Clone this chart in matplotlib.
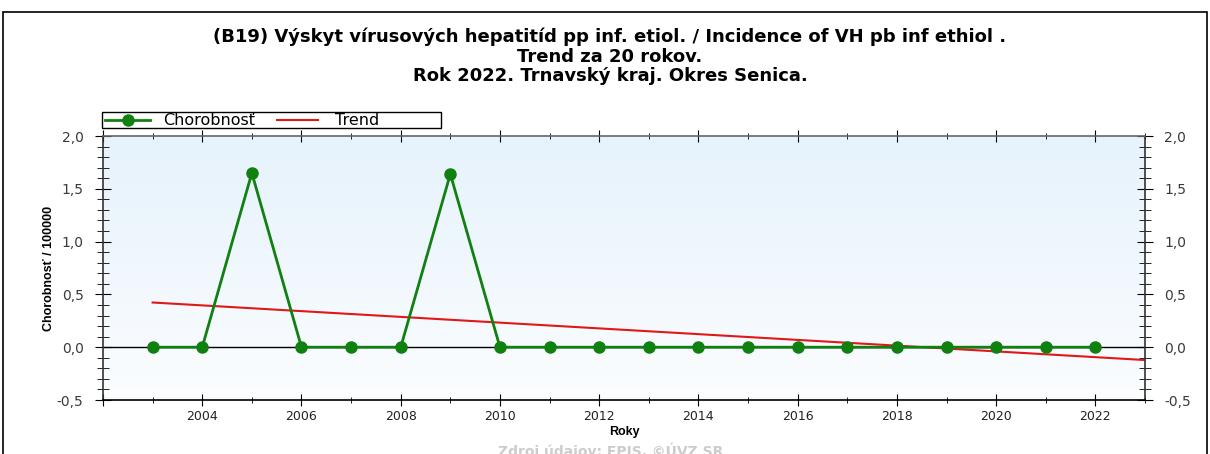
import numpy as np
import matplotlib
matplotlib.use("Agg")
import matplotlib.pyplot as plt
from matplotlib.ticker import MultipleLocator, FuncFormatter
from matplotlib.patches import Rectangle
from matplotlib.lines import Line2D
from matplotlib.colors import LinearSegmentedColormap

years = list(range(2003, 2023))
values = [0, 0, 1.65, 0, 0, 0, 1.64, 0, 0, 0, 0, 0, 0, 0, 0, 0, 0, 0, 0, 0]
title_lines = ["(B19) Výskyt vírusových hepatitíd pp inf. etiol. / Incidence of VH pb inf ethiol .",
               "Trend za 20 rokov.",
               "Rok 2022. Trnavský kraj. Okres Senica."]
series_label = "Chorobnosť"
trend_label = "Trend"

plt.rcParams['font.family'] = ['DejaVu Sans']

W, H = 1210, 454
fig = plt.figure(figsize=(W / 100, H / 100), dpi=100)
ax = fig.add_axes([103 / W, 1 - 400 / H, (1145 - 103) / W, (400 - 136) / H])

GREEN = '#108010'
RED = '#e01818'

# background gradient
grad = np.linspace(0, 1, 256).reshape(-1, 1)
cmap = LinearSegmentedColormap.from_list("bg", ["#fbfdff", "#e6f2fc"])
ax.imshow(grad, aspect='auto', cmap=cmap, extent=[2002, 2023, -0.5, 2.0], origin='lower', zorder=0)

ax.axhline(0, color='black', lw=1, zorder=1)

# trend from linear regression of the data
coef = np.polyfit(years, values, 1)
tx = np.array([2003, 2023])
ax.plot(tx, np.polyval(coef, tx), color=RED, lw=1.5, zorder=2)
ax.plot(years, values, color=GREEN, lw=2, marker='o', markersize=8, zorder=3)

ax.set_xlim(2002, 2023)
ax.set_ylim(-0.5, 2.0)
ax.xaxis.set_major_locator(MultipleLocator(2))
ax.xaxis.set_minor_locator(MultipleLocator(1))
ax.yaxis.set_major_locator(MultipleLocator(0.5))
ax.yaxis.set_minor_locator(MultipleLocator(0.1))
ax.yaxis.set_major_formatter(FuncFormatter(lambda v, p: f"{v:.1f}".replace('.', ',')))
ax.xaxis.set_major_formatter(FuncFormatter(lambda v, p: f"{int(v)}" if 2004 <= v <= 2022 else ""))
ax.tick_params(axis='y', which='both', direction='inout', left=True, right=True,
               labelleft=True, labelright=True, labelsize=10, labelcolor='#3a3a3a', pad=8)
ax.tick_params(axis='y', which='major', length=12)
ax.tick_params(axis='y', which='minor', length=8)
ax.tick_params(axis='x', which='both', direction='inout', top=True, bottom=True,
               labelsize=9, labelcolor='#222222', pad=3)
ax.tick_params(axis='x', which='major', length=8)
ax.tick_params(axis='x', which='minor', length=5)
for s in ['left', 'right', 'top', 'bottom']:
    ax.spines[s].set_linewidth(1.2)
ax.spines['left'].set_color('#333333')
ax.spines['right'].set_color('#333333')
ax.spines['top'].set_color('#666666')

ax.set_xlabel('Roky', fontsize=9, fontweight='bold', labelpad=2, family='Liberation Sans')
ax.set_ylabel('Chorobnosť / 100000', fontsize=9, fontweight='bold', labelpad=1,
              family='Liberation Sans')

for line, ypx in zip(title_lines, [37, 57, 76]):
    fig.text(610 / W, 1 - ypx / H, line, ha='center', va='center', fontsize=13,
             fontweight='bold')

def fx(px):
    return px / W

def fy(py):
    return 1 - py / H

# legend box drawn in figure pixels
fig.patches.append(Rectangle((fx(102), fy(128)), (441 - 102) / W, 16 / H,
                             transform=fig.transFigure, fill=True, facecolor='white',
                             edgecolor='black', lw=1))
fig.lines.append(Line2D([fx(105), fx(150)], [fy(120), fy(120)], transform=fig.transFigure,
                        color=GREEN, lw=2))
fig.lines.append(Line2D([fx(127.5)], [fy(120)], transform=fig.transFigure, color=GREEN,
                        marker='o', markersize=8))
fig.text(fx(163), fy(120.5), series_label, ha='left', va='center', fontsize=11.5)
fig.lines.append(Line2D([fx(277), fx(318)], [fy(120), fy(120)], transform=fig.transFigure,
                        color=RED, lw=1.5))
fig.text(fx(335), fy(120.5), trend_label, ha='left', va='center', fontsize=11.5)

fig.text(611 / W, 1 - 451 / H, 'Zdroj údajov: EPIS, ©ÚVZ SR', ha='center', va='center',
         fontsize=10, fontweight='bold', color='#cccccc')

fig.patches.append(Rectangle((3 / W, -0.1), (1207 - 3) / W, 1 - 12 / H + 0.1,
                             transform=fig.transFigure, fill=False, edgecolor='black', lw=1.2))

fig.savefig('out.png', dpi=100)
